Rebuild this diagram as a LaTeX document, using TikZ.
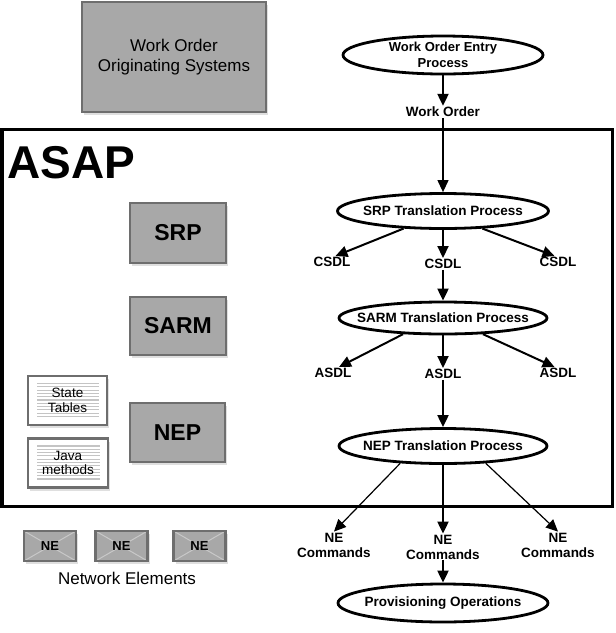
\documentclass[tikz,border=0pt]{standalone}
\usepackage{fontspec}
\setmainfont{Liberation Sans}
\usetikzlibrary{arrows.meta,shapes.geometric,shadows,calc}
\definecolor{boxgray}{RGB}{168,168,168}
\definecolor{boxedge}{RGB}{110,110,110}
\definecolor{stripegray}{RGB}{196,196,196}
\definecolor{crossgray}{RGB}{200,200,200}
\tikzset{
  graybox/.style={draw=boxedge, fill=boxgray, line width=2.4pt, inner sep=0pt, align=center,
    drop shadow={shadow xshift=2pt, shadow yshift=-3pt, opacity=0.25}},
  paperbox/.style={graybox, fill=white, line width=2.8pt, font=\fontsize{13.5}{14.5}\selectfont,
    path picture={\foreach \k in {0,...,10}
      \draw[stripegray, line width=1.1pt] ($(path picture bounding box.north west)+(9,7.5+3.3*\k)$)
        -- ($(path picture bounding box.north east)+(-8,7.5+3.3*\k)$);}},
  nebox/.style={graybox, minimum width=52, minimum height=30, font=\fontsize{13}{14}\selectfont\bfseries,
    path picture={\draw[crossgray, line width=1pt]
      (path picture bounding box.north west) -- (path picture bounding box.south east)
      (path picture bounding box.north east) -- (path picture bounding box.south west);}},
  procell/.style={ellipse, draw, line width=2.8pt, fill=white, inner xsep=-30pt, inner ysep=-10pt,
    align=center, font=\fontsize{13.5}{16}\selectfont\bfseries},
  flowlabel/.style={inner sep=1pt, align=center, font=\fontsize{13.5}{15}\selectfont\bfseries},
  flow/.style={-{Triangle[length=12pt,width=11pt]}, line width=2pt},
  thinflow/.style={flow, line width=1.2pt}
}
\begin{document}
\begin{tikzpicture}[x=1pt, y=-1pt]
  \useasboundingbox (0,0) rectangle (616,633);
  \node[graybox, minimum width=184, minimum height=110, font=\fontsize{17}{20.5}\selectfont] (wos) at (174,57) {Work Order\\Originating Systems};
  \draw[line width=3pt] (2,129.5) rectangle (612.5,506);
  \node[anchor=base west, inner sep=0pt, font=\fontsize{46}{46}\selectfont\bfseries] (asaplbl) at (7,178) {ASAP};
  \node[graybox, minimum width=96, minimum height=60, font=\fontsize{23}{23}\selectfont\bfseries] (srp) at (178,233) {SRP};
  \node[graybox, minimum width=96, minimum height=58, font=\fontsize{23}{23}\selectfont\bfseries] (sarm) at (178,326) {SARM};
  \node[graybox, minimum width=95, minimum height=59, font=\fontsize{23}{23}\selectfont\bfseries] (nep) at (177.5,432.5) {NEP};
  \node[paperbox, minimum width=79, minimum height=49] (state) at (67.5,400.5) {State\\Tables};
  \node[paperbox, minimum width=80, minimum height=49] (java) at (68,463) {Java\\methods};
  \foreach \i/\x in {1/50,2/121.5,3/199.5}
    \node[nebox] (ne\i) at (\x,546) {NE};
  \node[font=\fontsize{17}{20}\selectfont] (nelbl) at (127,578) {Network Elements};

  \node[procell, minimum width=200, minimum height=38, font=\fontsize{13}{16}\selectfont\bfseries] (entry) at (443,55) {Work Order Entry\\Process};
  \node[flowlabel] (wo) at (443,112) {Work Order};
  \node[procell, minimum width=211, minimum height=35] (srpt) at (443,211) {SRP Translation Process};
  \node[flowlabel] (csdl1) at (332,262) {CSDL};
  \node[flowlabel] (csdl2) at (443,264) {CSDL};
  \node[flowlabel] (csdl3) at (558,262) {CSDL};
  \node[procell, minimum width=208, minimum height=32] (sarmt) at (443,318) {SARM Translation Process};
  \node[flowlabel] (asdl1) at (333,373) {ASDL};
  \node[flowlabel] (asdl2) at (443,374) {ASDL};
  \node[flowlabel] (asdl3) at (558,373) {ASDL};
  \node[procell, minimum width=208, minimum height=35] (nept) at (443,446) {NEP Translation Process};
  \node[flowlabel] (cmd1) at (334,545) {NE\\Commands};
  \node[flowlabel] (cmd2) at (443,547) {NE\\Commands};
  \node[flowlabel] (cmd3) at (558,545) {NE\\Commands};
  \node[procell, minimum width=210, minimum height=38] (prov) at (443,603) {Provisioning Operations};

  \draw[flow] (entry) -- (wo);
  \draw[thinflow] (wo) -- (srpt);
  \foreach \a/\b in {srpt.204/csdl1.60, srpt/csdl2, srpt.336/csdl3.120,
                     csdl2/sarmt, sarmt.202/asdl1.45, sarmt/asdl2, sarmt.338/asdl3.120,
                     asdl2/nept, nept/cmd2, cmd2/prov}
    \draw[flow] (\a) -- (\b);
  \foreach \a/\b in {nept.202/cmd1.north, nept.338/cmd3.north}
    \draw[thinflow] (\a) -- (\b);
\end{tikzpicture}
\end{document}
